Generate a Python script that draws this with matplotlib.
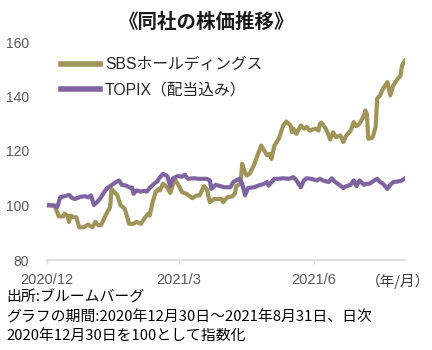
import matplotlib
matplotlib.use("Agg")
import matplotlib.pyplot as plt
import numpy as np
import pandas as pd

# ---- data (days since 2020-12-30, index 2020-12-30 = 100) ----
base_date = "2020-12-30"
end_day = 244  # 2021-08-31

sbs_days = [0, 5, 7, 8, 11, 12, 14, 15, 16, 18, 20, 22, 25, 28, 31, 33, 35, 37, 41, 43,
            44, 45, 48, 50, 53, 56, 59, 61, 64, 67, 69, 70, 72, 74, 76, 77, 79, 82, 84, 86,
            87, 90, 92, 95, 99, 102, 104, 107, 109, 111, 114, 117, 119, 120, 123, 126, 128, 129, 132, 133,
            134, 136, 138, 141, 143, 146, 148, 150, 152, 153, 155, 158, 161, 163, 166, 167, 168, 170, 173, 175,
            177, 179, 183, 185, 186, 187, 190, 192, 193, 195, 197, 200, 202, 204, 207, 209, 211, 213, 216, 217,
            218, 219, 221, 222, 224, 225, 227, 229, 232, 234, 236, 239, 241, 242, 244]
sbs_vals = [100.0, 100.0, 97.5, 96.0, 96.0, 97.0, 96.3, 94.0, 96.3, 95.7, 95.7, 92.0, 92.0, 93.0, 92.0, 94.0, 92.7, 93.0, 97.5, 99.4,
            106.0, 105.5, 103.7, 100.2, 98.8, 93.3, 93.3, 94.0, 93.3, 95.7, 97.0, 96.3, 101.2, 104.9, 106.0, 105.5, 108.0, 106.7, 104.6, 108.0,
            109.8, 107.1, 104.9, 104.3, 102.7, 103.7, 103.7, 107.1, 105.9, 101.2, 102.4, 102.4, 102.4, 101.2, 103.0, 103.3, 104.3, 107.1, 108.0, 115.3,
            113.5, 111.0, 111.6, 114.7, 117.7, 122.0, 120.2, 118.4, 119.0, 117.1, 122.0, 124.5, 129.4, 130.8, 129.4, 126.9, 128.2, 126.3, 129.4, 128.2,
            128.8, 127.5, 128.2, 127.5, 130.0, 130.4, 128.2, 125.7, 124.2, 126.9, 125.1, 125.7, 123.3, 125.7, 127.5, 130.6, 129.1, 130.0, 133.0, 134.9,
            133.7, 124.5, 124.7, 125.1, 128.8, 139.2, 140.4, 142.8, 145.3, 140.4, 144.0, 146.5, 147.7, 151.4, 153.2]

topix_days = [0, 5, 7, 9, 12, 15, 17, 19, 22, 24, 26, 28, 30, 32, 34, 36, 39, 41, 43, 47,
              49, 51, 54, 57, 58, 59, 61, 64, 66, 68, 70, 73, 75, 77, 79, 82, 84, 86, 89, 92,
              94, 96, 100, 103, 107, 109, 111, 112, 115, 118, 121, 125, 127, 131, 133, 135, 137, 141, 144, 148,
              150, 151, 153, 155, 158, 161, 165, 168, 170, 173, 175, 177, 180, 184, 186, 188, 192, 194, 196, 200,
              202, 204, 207, 209, 211, 213, 216, 218, 220, 222, 225, 227, 229, 232, 234, 236, 239, 242, 244]
topix_vals = [100.2, 100.0, 99.4, 103.0, 103.4, 103.9, 102.8, 102.4, 103.0, 103.3, 103.4, 103.0, 103.7, 100.2, 101.2, 102.4, 104.9, 106.4, 107.1, 108.6,
              109.2, 107.6, 107.3, 106.4, 106.6, 104.3, 105.5, 105.1, 105.4, 105.1, 106.4, 108.0, 108.8, 110.4, 111.6, 110.8, 107.1, 110.0, 110.8, 110.6,
              111.3, 109.8, 110.0, 109.8, 109.8, 109.8, 109.2, 106.1, 107.6, 107.1, 106.7, 106.7, 108.6, 109.8, 108.0, 103.7, 106.4, 106.7, 107.3, 108.0,
              108.6, 107.3, 108.6, 109.8, 109.8, 110.0, 109.8, 110.4, 109.2, 106.7, 109.2, 110.0, 109.8, 109.2, 109.8, 109.2, 108.6, 110.0, 108.8, 107.3,
              106.4, 107.1, 107.6, 109.2, 107.1, 109.2, 107.6, 108.0, 108.0, 108.8, 109.8, 108.6, 108.0, 106.1, 107.6, 108.6, 108.8, 109.2, 110.0]

tick_days = [0, 90, 182]
tick_labels = ["2020/12", "2021/3", "2021/6"]
y_ticks = [80, 100, 120, 140, 160]

series_labels = ["SBSホールディングス", "TOPIX（配当込み）"]
title = "《同社の株価推移》"
notes = ["出所:ブルームバーグ",
         "グラフの期間:2020年12月30日～2021年8月31日、日次",
         "2020年12月30日を100として指数化"]

# ---- plotting ----
plt.rcParams['font.family'] = ['Liberation Sans', 'Noto Sans CJK JP', 'DejaVu Sans']
cjk = ['Noto Sans CJK JP', 'DejaVu Sans']

t0 = pd.Timestamp(base_date)
sbs_x = [t0 + pd.Timedelta(days=d) for d in sbs_days]
topix_x = [t0 + pd.Timedelta(days=d) for d in topix_days]

fig = plt.figure(figsize=(4.32, 3.5), dpi=100)
ax = fig.add_axes([47/432, 1-260/350, (405-47)/432, (260-42)/350])

gold = "#A09459"
purple = "#8064A2"
ax.plot(sbs_x, sbs_vals, color=gold, lw=3.0, solid_joinstyle='round', label=series_labels[0])
ax.plot(topix_x, topix_vals, color=purple, lw=3.0, solid_joinstyle='round', label=series_labels[1])

ax.set_xlim(t0, t0 + pd.Timedelta(days=end_day))
ax.set_ylim(80, 160)
ax.set_yticks(y_ticks)
ax.set_xticks([t0 + pd.Timedelta(days=d) for d in tick_days])
ax.set_xticklabels(tick_labels)

for s in ['top', 'right', 'left']:
    ax.spines[s].set_visible(False)
ax.spines['bottom'].set_color("#D9D9D9")
ax.spines['bottom'].set_linewidth(1.2)
ax.tick_params(axis='y', length=0, pad=13, labelsize=10, labelcolor="#595959")
ax.tick_params(axis='x', length=3, width=1, color="#D9D9D9", pad=6, labelsize=10.5, labelcolor="#595959")

leg = ax.legend(loc='upper left', bbox_to_anchor=(61/432, 1-57/350), bbox_transform=fig.transFigure,
                frameon=False, handlelength=2.5, handletextpad=0.3, labelspacing=0.7,
                borderpad=0, borderaxespad=0, prop={'family': ['Liberation Sans', 'Noto Sans CJK JP'], 'size': 11.3})
for t in leg.get_texts():
    t.set_color("#262626")
for l in leg.get_lines():
    l.set_linewidth(4)

fig.text(207/432, 1-22/350, title, ha='center', va='center', fontsize=14, fontweight='bold',
         family=cjk, color="#1a1a1a")
fig.text(398/432, 1-281/350, "（年/月）", ha='center', va='center', fontsize=10.5, family=cjk, color="#404040")

ys = [298, 318, 337]
for txt, y in zip(notes, ys):
    fig.text(6/432, 1-y/350, txt, ha='left', va='center', fontsize=10.7, family=cjk, color="#000000")

fig.savefig("out.png", dpi=100)
